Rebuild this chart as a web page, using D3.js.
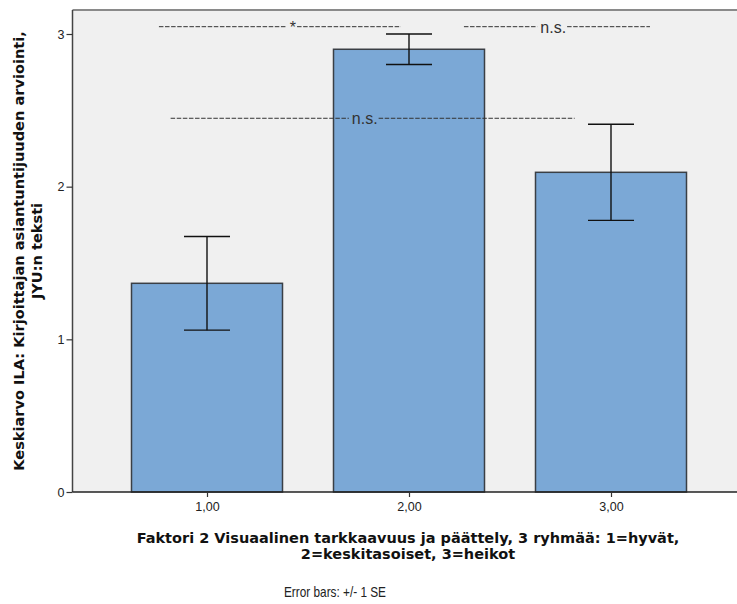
<!DOCTYPE html>
<html>
<head>
<meta charset="utf-8">
<script src="https://cdn.jsdelivr.net/npm/d3@7"></script>
<style>
  body { margin: 0; background: #fff; }
  text { font-family: "Liberation Sans", Arial, sans-serif; }
</style>
</head>
<body>
<div class="canvas"></div>
<script>
// data
const groups = ["1,00", "2,00", "3,00"];
const means = [1.367, 2.90, 2.094];
const se = [0.307, 0.10, 0.315];
const yTicks = [0, 1, 2, 3];
// significance notes: from / to in group units (1..3), text position
const notes = [
  { label: "*", y: 3.048, from: 0.762, to: 1.96, at: 1.41 },
  { label: "n.s.", y: 3.048, from: 2.272, to: 3.193, at: 2.65 },
  { label: "n.s.", y: 2.448, from: 0.82, to: 2.82, at: 1.717 }
];

const W = 737, H = 604;
const svg = d3.select(".canvas").append("svg")
  .attr("width", W).attr("height", H);

const plotLeft = 72.5, plotTop = 10, plotBottom = 492;

let yScale = d3.scaleLinear().domain([0, 3]).range([plotBottom, 34]);
let xScale = d3.scalePoint().domain(groups).range([207, 611]);
// continuous version for the notes
let xPos = d3.scaleLinear().domain([1, 3]).range([207, 611]);
const barW = 151;

// plot background
svg.append("rect")
  .attr("x", plotLeft).attr("y", plotTop)
  .attr("width", W - plotLeft + 5).attr("height", plotBottom - plotTop)
  .attr("fill", "#f0f0f0");
svg.append("line")
  .attr("x1", plotLeft).attr("x2", W + 5)
  .attr("y1", plotTop).attr("y2", plotTop)
  .attr("stroke", "#8a8a8a").attr("stroke-width", 2);

// bars
svg.selectAll("rect.bar")
  .data(means)
  .enter()
  .append("rect")
  .attr("class", "bar")
  .attr("x", (d, i) => xScale(groups[i]) - barW / 2)
  .attr("y", (d) => yScale(d))
  .attr("width", barW)
  .attr("height", (d) => plotBottom - yScale(d))
  .attr("fill", "#7ba8d6")
  .attr("stroke", "#3a3f45")
  .attr("stroke-width", 1.5);

// error bars
let eb = svg.selectAll("g.err")
  .data(means)
  .enter()
  .append("g")
  .attr("class", "err")
  .attr("stroke", "#111")
  .attr("stroke-width", 1.4);
eb.append("line")
  .attr("x1", (d, i) => xScale(groups[i]))
  .attr("x2", (d, i) => xScale(groups[i]))
  .attr("y1", (d, i) => yScale(d + se[i]))
  .attr("y2", (d, i) => yScale(d - se[i]));
[1, -1].forEach((s) => {
  eb.append("line")
    .attr("x1", (d, i) => xScale(groups[i]) - 23)
    .attr("x2", (d, i) => xScale(groups[i]) + 23)
    .attr("y1", (d, i) => yScale(d + s * se[i]))
    .attr("y2", (d, i) => yScale(d + s * se[i]));
});

// axes
let yAxis = svg.append("g")
  .attr("transform", `translate(${plotLeft},0)`)
  .call(d3.axisLeft(yScale).tickValues(yTicks).tickSize(6).tickSizeOuter(0).tickFormat(d3.format("d")));
yAxis.select(".domain").attr("d", `M0,${plotTop}V${plotBottom}`).attr("stroke", "#444").attr("stroke-width", 1.5);

let xAxis = svg.append("g")
  .attr("transform", `translate(0,${plotBottom})`)
  .call(d3.axisBottom(xScale).tickSize(5).tickSizeOuter(0));
xAxis.select(".domain").attr("d", `M${plotLeft},0H${W + 5}`).attr("stroke", "#222").attr("stroke-width", 1.5);

svg.selectAll(".tick line").attr("stroke", "#333").attr("stroke-width", 1.2);
svg.selectAll(".tick text")
  .attr("font-family", "Liberation Sans, Arial, sans-serif")
  .attr("font-size", 12.5).attr("fill", "#222");
yAxis.selectAll(".tick text").attr("x", -8);
xAxis.selectAll(".tick text").attr("y", 10);

// significance notes
notes.forEach((n) => {
  let y = yScale(n.y);
  let t = svg.append("text")
    .attr("x", xPos(n.at)).attr("y", y + 6)
    .attr("font-size", 16)
    .attr("fill", "#333")
    .text(n.label);
  let w = t.node().getComputedTextLength();
  let segs = [[xPos(n.from), xPos(n.at) - 3], [xPos(n.at) + w + 1, xPos(n.to)]];
  segs.forEach((s) => {
    svg.append("line")
      .attr("x1", s[0]).attr("x2", s[1])
      .attr("y1", y).attr("y2", y)
      .attr("stroke", "#333").attr("stroke-width", 1)
      .attr("stroke-dasharray", "4.5,1.6");
  });
});

// scale a bold title so its widest line fills the wanted width
let fit = (sel, width) => {
  let widest = 0;
  sel.selectAll("tspan").each(function () {
    widest = Math.max(widest, this.getComputedTextLength());
  });
  sel.attr("font-size", 13 * width / widest);
};

// titles
let yt = svg.append("text")
  .attr("transform", "translate(24,251) rotate(-90)")
  .attr("text-anchor", "middle")
  .style("font-family", "'DejaVu Sans', sans-serif")
  .attr("font-size", 13).attr("font-weight", "bold").attr("fill", "#111");
yt.append("tspan").attr("x", 0).attr("dy", 0)
  .text("Keskiarvo ILA: Kirjoittajan asiantuntijuuden arviointi,");
yt.append("tspan").attr("x", 0).attr("dy", 18).text("JYU:n teksti");
fit(yt, 440);

let xt = svg.append("text")
  .attr("x", 408).attr("y", 543)
  .attr("text-anchor", "middle")
  .style("font-family", "'DejaVu Sans', sans-serif")
  .attr("font-size", 13).attr("font-weight", "bold").attr("fill", "#111");
xt.append("tspan").attr("x", 408).attr("dy", 0)
  .text("Faktori 2 Visuaalinen tarkkaavuus ja päättely, 3 ryhmää: 1=hyvät,");
xt.append("tspan").attr("x", 408).attr("dy", 16).text("2=keskitasoiset, 3=heikot");
fit(xt, 543);

svg.append("text")
  .attr("x", 284).attr("y", 597)
  .attr("font-size", 14.5).attr("fill", "#222")
  .attr("textLength", 102).attr("lengthAdjust", "spacingAndGlyphs")
  .text("Error bars: +/- 1 SE");
</script>
</body>
</html>
